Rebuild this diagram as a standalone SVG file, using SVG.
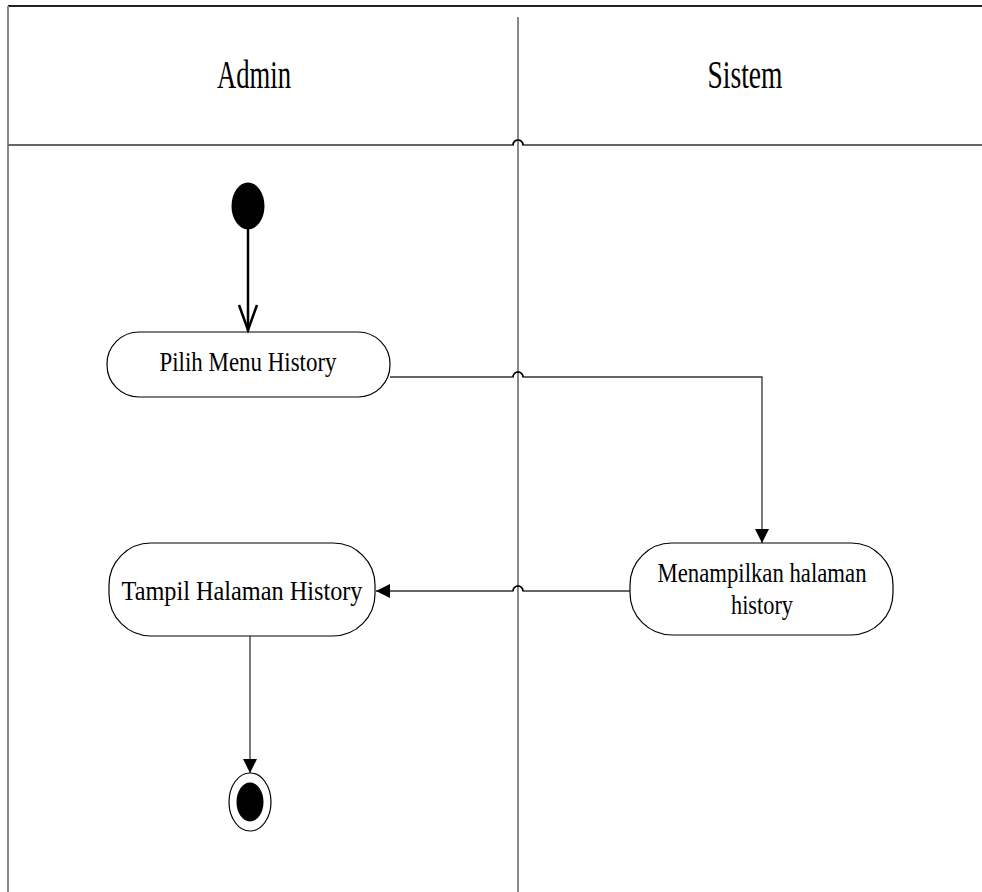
<svg xmlns="http://www.w3.org/2000/svg" width="982" height="892" viewBox="0 0 982 892">
<defs>
<style>
.frame{stroke:#888;stroke-width:2;fill:none}
.node{fill:#fff;stroke:#000;stroke-width:1.2}
.lbl{font-family:"Liberation Serif","Times New Roman",serif;font-size:27px;fill:#000;text-anchor:middle}
.hdr{font-family:"Liberation Serif","Times New Roman",serif;font-size:40px;fill:#000;text-anchor:middle}
.conn{fill:none;stroke:#333;stroke-width:1.3}
.hop{fill:none;stroke:#000;stroke-width:1.5}
</style>
<marker id="fill" viewBox="0 0 10 10" refX="10" refY="5" markerWidth="14" markerHeight="14" markerUnits="userSpaceOnUse" orient="auto">
<path d="M0,0 L10,5 L0,10 Z" fill="#000"/>
</marker>
</defs>
<g id="swimlanes">
<line x1="8" y1="6" x2="982" y2="6" stroke="#222" stroke-width="2"/>
<line x1="8" y1="6" x2="8" y2="892" class="frame"/>
<path d="M8,145 H513 A5,5 0 0 1 523,145 H982" fill="none" stroke="#666" stroke-width="2"/>
<line x1="518" y1="17" x2="518" y2="892" class="frame"/>
<text class="hdr" x="254" y="88" textLength="74" lengthAdjust="spacingAndGlyphs">Admin</text>
<text class="hdr" x="745" y="88" textLength="75" lengthAdjust="spacingAndGlyphs">Sistem</text>
</g>
<g id="start">
<ellipse cx="248" cy="206" rx="16.5" ry="23.5" fill="#000"/>
</g>
<g id="pilih">
<rect class="node" x="107" y="332" width="283" height="65" rx="32" ry="32"/>
<text class="lbl" x="248" y="371" textLength="177" lengthAdjust="spacingAndGlyphs">Pilih Menu History</text>
</g>
<g id="menampilkan">
<rect class="node" x="630" y="543" width="263" height="92" rx="42" ry="42"/>
<text class="lbl" x="762" y="582" textLength="209" lengthAdjust="spacingAndGlyphs">Menampilkan halaman</text>
<text class="lbl" x="762" y="614" textLength="62" lengthAdjust="spacingAndGlyphs">history</text>
</g>
<g id="tampil">
<rect class="node" x="109" y="543" width="266" height="93" rx="42" ry="42"/>
<text class="lbl" x="242" y="600" textLength="241" lengthAdjust="spacingAndGlyphs">Tampil Halaman History</text>
</g>
<g id="end">
<ellipse cx="250" cy="802" rx="21" ry="29" fill="#fff" stroke="#000" stroke-width="1.2"/>
<ellipse cx="250" cy="802" rx="13.5" ry="19.5" fill="#000"/>
</g>
<g id="connectors">
<line x1="248" y1="229" x2="248" y2="331" stroke="#000" stroke-width="2.5"/>
<path d="M239,305 L248,330 L257,305" fill="none" stroke="#000" stroke-width="2.5"/>
<path class="conn" d="M390,377 H513 A5,5 0 0 1 523,377 H762 V543" marker-end="url(#fill)"/>
<path class="hop" d="M513,377 A5,5 0 0 1 523,377"/>
<path class="conn" d="M630,591 H523 A5,5 0 0 0 513,591 H376" marker-end="url(#fill)"/>
<path class="hop" d="M523,591 A5,5 0 0 0 513,591"/>
<path class="hop" d="M513,145 A5,5 0 0 1 523,145"/>
<line class="conn" x1="250" y1="636" x2="250" y2="773" marker-end="url(#fill)"/>
</g>
</svg>
